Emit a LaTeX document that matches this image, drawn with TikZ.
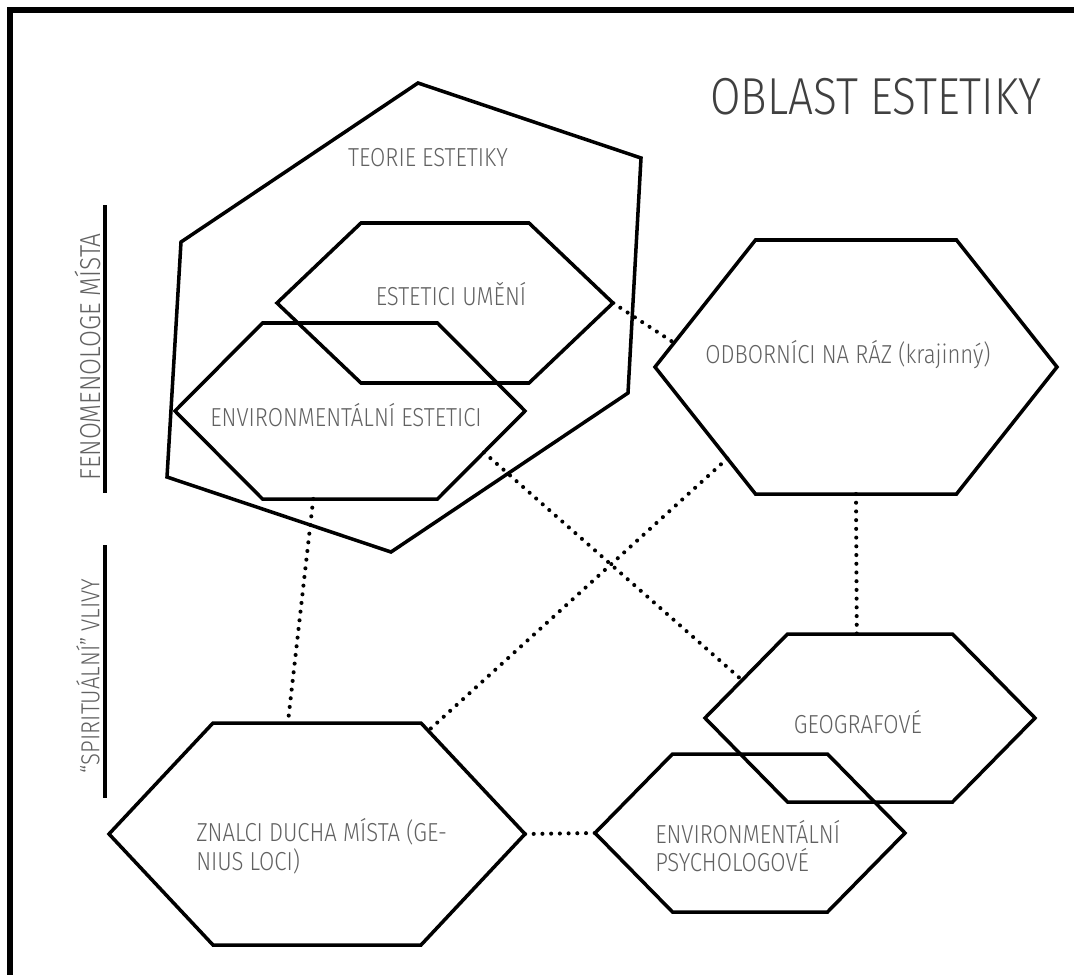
\documentclass[tikz,border=0pt]{standalone}
\usepackage{fontspec}
\setmainfont{Fira Sans Light}[FakeStretch=0.85]
\usepackage{tikz}
\usetikzlibrary{calc}

% hexagon: name, centre, half width, half height
\newcommand{\hexcell}[4]{%
  \coordinate (#1) at (#2);
  \coordinate (#1-e)  at ($(#1)+(#3,0)$);
  \coordinate (#1-ne) at ($(#1)+(#3/2,-#4)$);
  \coordinate (#1-nw) at ($(#1)+(-#3/2,-#4)$);
  \coordinate (#1-w)  at ($(#1)+(-#3,0)$);
  \coordinate (#1-sw) at ($(#1)+(-#3/2,#4)$);
  \coordinate (#1-se) at ($(#1)+(#3/2,#4)$);
  \draw[hexline] (#1-e) -- (#1-ne) -- (#1-nw) -- (#1-w) -- (#1-sw) -- (#1-se) -- cycle;
}

\begin{document}
\begin{tikzpicture}[
  x=0.025cm, y=-0.025cm,
  font=\fontsize{18.5}{20.5}\selectfont,
  hexline/.style={line width=2.5pt, line join=miter},
  frameline/.style={line width=4.3pt},
  sidebar/.style={line width=2.8pt},
  link/.style={line width=2.9pt, line cap=round, dash pattern=on 0pt off 6.2pt},
  label/.style={text=black!62, inner sep=0pt},
  title/.style={text=black!75, inner sep=0pt, font=\fontsize{37}{40}\selectfont}
]
  \useasboundingbox (0,0) rectangle (1074,975);
  \draw[frameline] (10,975) -- (10,10) -- (1074,10);

  % outer field of aesthetic theory
  \coordinate (t1) at (418,83);
  \coordinate (t2) at (641,158);
  \coordinate (t3) at (628,393);
  \coordinate (t4) at (391,552);
  \coordinate (t5) at (167,477);
  \coordinate (t6) at (181,242);
  \draw[hexline] (t1) -- (t2) -- (t3) -- (t4) -- (t5) -- (t6) -- cycle;

  \hexcell{umeni}{445,303}{168}{80}
  \hexcell{envest}{350,411}{175}{88}
  \hexcell{odb}{856,367}{201}{127}
  \hexcell{znalci}{317,834}{208}{111}
  \hexcell{geo}{870,718}{165}{84}
  \hexcell{psych}{750,833}{155}{79}

  \node[title] (oblast) at (876,97) {OBLAST ESTETIKY};
  \node[label] (teorie) at (428,158) {TEORIE ESTETIKY};
  \node[label] (umenitext) at (451,294) {ESTETICI UMĚNÍ};
  \node[label] (envesttext) at (346,415) {ENVIRONMENTÁLNÍ ESTETICI};
  \node[label] (odbtext) at (848,355) {ODBORNÍCI NA RÁZ (krajinný)};
  \node[label] (geotext) at (858,722) {GEOGRAFOVÉ};
  \node[label, anchor=west, align=left] (psychtext) at (655,846) {ENVIRONMENTÁLNÍ\\PSYCHOLOGOVÉ};
  \node[label, anchor=west, align=left] (znalcitext) at (196,846) {ZNALCI DUCHA MÍSTA (GE-\\NIUS LOCI)};

  \node[label, rotate=90, font=\fontsize{20.5}{22}\selectfont] (fenom) at (88,357) {FENOMENOLOGE MÍSTA};
  \node[label, rotate=90, font=\fontsize{18.5}{20}\selectfont] (spirit) at (88,676) {“SPIRITUÁLNÍ” VLIVY};
  \coordinate (fenomtop) at (105,205);
  \coordinate (fenombot) at (105,493);
  \coordinate (spirittop) at (105,545);
  \coordinate (spiritbot) at (105,798);
  \draw[sidebar] (fenomtop) -- (fenombot);
  \draw[sidebar] (spirittop) -- (spiritbot);

  \draw[link] (umeni-e) -- ($(odb-w)!0.19!(odb-nw)$);
  \draw[link] ($(envest-e)!0.47!(envest-se)$) -- ($(geo-w)!0.45!(geo-nw)$);
  \draw[link] ($(odb-w)!0.72!(odb-sw)$) -- ($(znalci-ne)!0.07!(znalci-e)$);
  \draw[link] ($(envest-sw)!0.29!(envest-se)$) -- ($(znalci-nw)!0.36!(znalci-ne)$);
  \draw[link] ($(odb-sw)!0.5!(odb-se)$) -- ($(geo-nw)!0.42!(geo-ne)$);
  \draw[link] (znalci-e) -- (psych-w);
\end{tikzpicture}
\end{document}
